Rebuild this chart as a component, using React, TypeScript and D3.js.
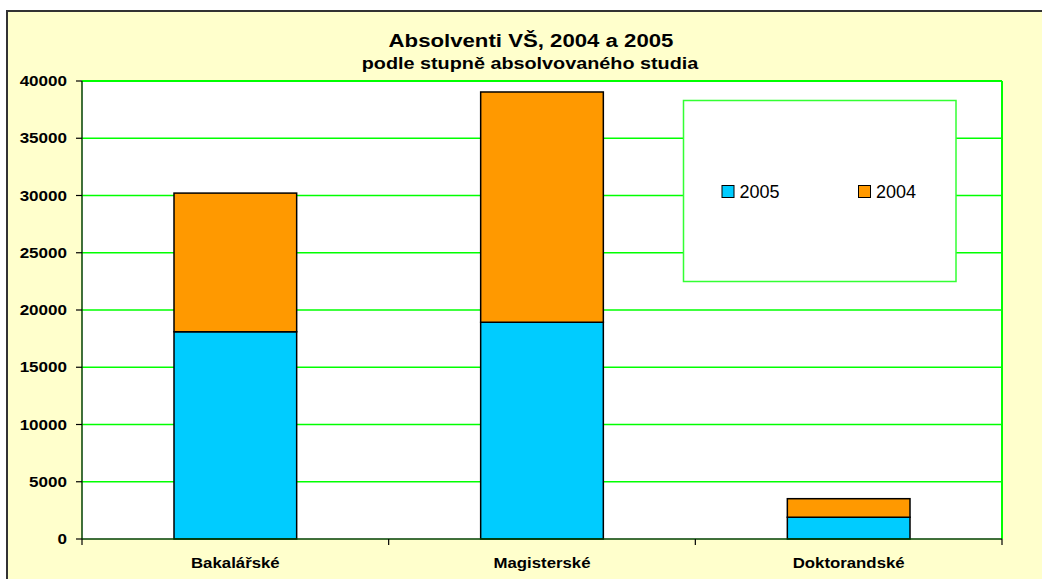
import React from "react";
import * as d3 from "d3";

// graduates by level of study
const categories = ["Bakalářské", "Magisterské", "Doktorandské"];
const series = ["2005", "2004"];
const values2005 = [18100, 18930, 1900];
const values2004 = [12110, 20110, 1620];
const yTicks = [0, 5000, 10000, 15000, 20000, 25000, 30000, 35000, 40000];

const colors: Record<string, string> = { "2005": "#00CCFF", "2004": "#FF9900" };

const W = 1042;
const H = 579;
const plot = { left: 82, right: 1002, top: 81, bottom: 539 };
const FONT = "'Liberation Sans', Arial, sans-serif";
const SX = 1.2; // the original picture is stretched sideways

const T = (props: {
  x: number;
  y: number;
  size: number;
  anchor?: string;
  bold?: boolean;
  sx?: number;
  children: React.ReactNode;
}) => (
  <text
    transform={`translate(${props.x},${props.y}) scale(${props.sx ?? SX},1)`}
    fontFamily={FONT}
    fontSize={props.size}
    fontWeight={props.bold === false ? "normal" : "bold"}
    textAnchor={props.anchor ?? "middle"}
    fill="#000"
  >
    {props.children}
  </text>
);

const App = () => {
  const rows = categories.map((c, i) => ({
    cat: c,
    "2005": values2005[i],
    "2004": values2004[i],
  }));
  const stacked = d3.stack<any>().keys(series)(rows);

  const x = d3
    .scaleBand()
    .domain(categories)
    .range([plot.left, plot.right])
    .paddingInner(0.6)
    .paddingOuter(0.3);

  const y = d3.scaleLinear().domain([0, 40000]).range([plot.bottom, plot.top]);

  const step = x.step();
  const catEdges = d3.range(categories.length + 1).map(i => plot.left + i * step);

  return (
    <svg
      width={W}
      height={H}
      style={{ position: "absolute", left: 0, top: 0, background: "#fff" }}
    >
      {/* chart area */}
      <rect x={7} y={11} width={W + 10} height={H + 10} fill="#FFFFCC" stroke="#333" strokeWidth={2} />

      <T x={531} y={47} size={18.5}>Absolventi VŠ, 2004 a 2005</T>
      <T x={530} y={68.5} size={16.5}>podle stupně absolvovaného studia</T>

      {/* plot area */}
      <rect
        x={plot.left}
        y={plot.top}
        width={plot.right - plot.left}
        height={plot.bottom - plot.top}
        fill="#fff"
      />
      {yTicks.slice(1, -1).map(t => (
        <line key={t} x1={plot.left} x2={plot.right} y1={y(t)} y2={y(t)} stroke="#00FF00" strokeWidth={1.5} />
      ))}
      <line x1={plot.left} x2={plot.right} y1={plot.top} y2={plot.top} stroke="#00FF00" strokeWidth={2} />
      <line x1={plot.right} x2={plot.right} y1={plot.top} y2={plot.bottom} stroke="#00FF00" strokeWidth={2} />

      {/* bars */}
      {stacked.map(s =>
        s.map((d, i) => (
          <rect
            key={s.key + i}
            x={x(categories[i])}
            y={y(d[1])}
            width={x.bandwidth()}
            height={y(d[0]) - y(d[1])}
            fill={colors[s.key]}
            stroke="#000"
            strokeWidth={1.5}
          />
        ))
      )}

      {/* axes */}
      <line x1={plot.left} x2={plot.left} y1={plot.top} y2={plot.bottom} stroke="#004000" strokeWidth={1.5} />
      <line x1={plot.left} x2={plot.right} y1={plot.bottom} y2={plot.bottom} stroke="#004000" strokeWidth={1.5} />
      {yTicks.map(t => (
        <g key={t}>
          <line x1={plot.left - 6} x2={plot.left} y1={y(t)} y2={y(t)} stroke="#000" strokeWidth={1.2} />
          <T x={67} y={y(t) + 5} size={14.2} anchor="end">{t}</T>
        </g>
      ))}
      {catEdges.map(e => (
        <line key={e} x1={e} x2={e} y1={plot.bottom} y2={plot.bottom + 6} stroke="#000" strokeWidth={1.2} />
      ))}
      {categories.map(c => (
        <T key={c} x={x(c)! + x.bandwidth() / 2} y={567.5} size={14}>{c}</T>
      ))}

      {/* legend */}
      <rect x={683.5} y={100.5} width={272.5} height={181} fill="#fff" stroke="#33FF33" strokeWidth={1.5} />
      {series.map((s, i) => {
        const lx = 722 + i * 136.5;
        return (
          <g key={s}>
            <rect x={lx} y={185.5} width={12} height={12} fill={colors[s]} stroke="#000" strokeWidth={1} />
            <T x={lx + 17.5} y={198} size={17.5} anchor="start" bold={false} sx={1.03}>{s}</T>
          </g>
        );
      })}
    </svg>
  );
};

export default App;
